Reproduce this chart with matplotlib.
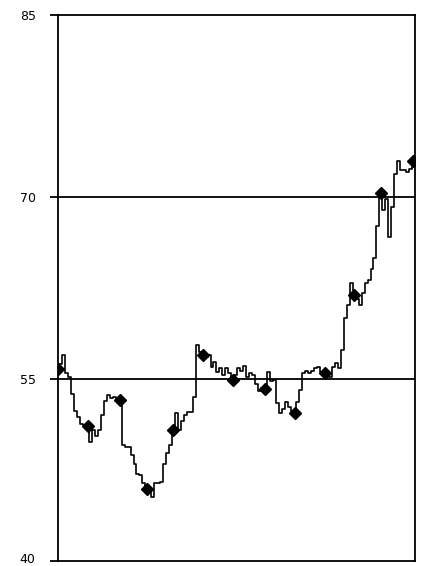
import numpy as np
import matplotlib
matplotlib.use("Agg")
import matplotlib.pyplot as plt
from matplotlib.transforms import ScaledTranslation

# DATA (one value per trading day)
values = [
    55.8, 56.2, 57.0, 55.5, 55.2, 53.8, 52.4, 51.9, 51.3, 51.2,
    51.1, 49.8, 50.8, 50.3, 50.8, 52.0, 53.2, 53.7, 53.4, 53.5,
    53.3, 53.3, 49.6, 49.4, 49.4, 48.7, 48.0, 47.2, 47.1, 46.4,
    45.9, 46.0, 45.3, 46.4, 46.4, 46.5, 48.0, 48.9, 49.6, 50.8,
    52.2, 50.8, 51.5, 52.0, 52.3, 52.3, 53.5, 57.8, 57.2, 57.0,
    56.8, 57.0, 56.0, 56.4, 55.6, 55.9, 55.3, 55.9, 55.5, 54.9,
    55.3, 55.9, 55.7, 56.1, 55.2, 55.5, 55.3, 54.6, 54.0, 54.3,
    54.2, 55.6, 54.8, 54.9, 53.0, 52.2, 52.5, 53.1, 52.7, 52.4,
    52.2, 53.1, 54.1, 55.5, 55.7, 55.5, 55.7, 55.9, 56.0, 55.6,
    55.5, 55.3, 55.2, 56.0, 56.3, 55.9, 57.4, 60.0, 61.1, 62.9,
    61.9, 61.6, 61.1, 62.1, 62.9, 63.2, 64.1, 65.0, 67.6, 70.3,
    68.9, 69.8, 66.7, 69.2, 71.9, 73.0, 72.2, 72.2, 72.1, 72.3,
    73.0,
]
marker_idx = [0, 10, 21, 30, 39, 49, 59, 70, 80, 90, 100, 109, 120]
yticks = [40, 55, 70, 85]
gridlines = [55, 70]

days = np.arange(len(values))

# PLOT
fig = plt.figure(figsize=(4.23, 5.66), dpi=100)
ax = fig.add_axes([0.137, 0.0088, 0.844, 0.9647])

for g in gridlines:
    ax.axhline(g, color="black", linewidth=1.3, zorder=1)

ax.plot(
    days,
    values,
    color="black",
    linewidth=1.2,
    drawstyle="steps-mid",
    zorder=2
)
ax.plot(
    days[marker_idx],
    np.array(values)[marker_idx],
    linestyle="none",
    marker="D",
    markersize=6.5,
    color="black",
    zorder=3
)

ax.set_xlim(0, 120.5)
ax.set_ylim(40, 85)
ax.set_yticks(yticks)
ax.set_xticks([])

for s in ax.spines.values():
    s.set_color("black")
    s.set_linewidth(1.3)

ax.tick_params(axis="y", length=6, width=1.3, pad=10, labelsize=9, colors="black")

# nudge the bottom label up a little so it stays inside the picture
lbl = ax.get_yticklabels()[0]
lbl.set_transform(lbl.get_transform() + ScaledTranslation(0, 2 / 72, fig.dpi_scale_trans))

fig.savefig("out.png", dpi=100)
